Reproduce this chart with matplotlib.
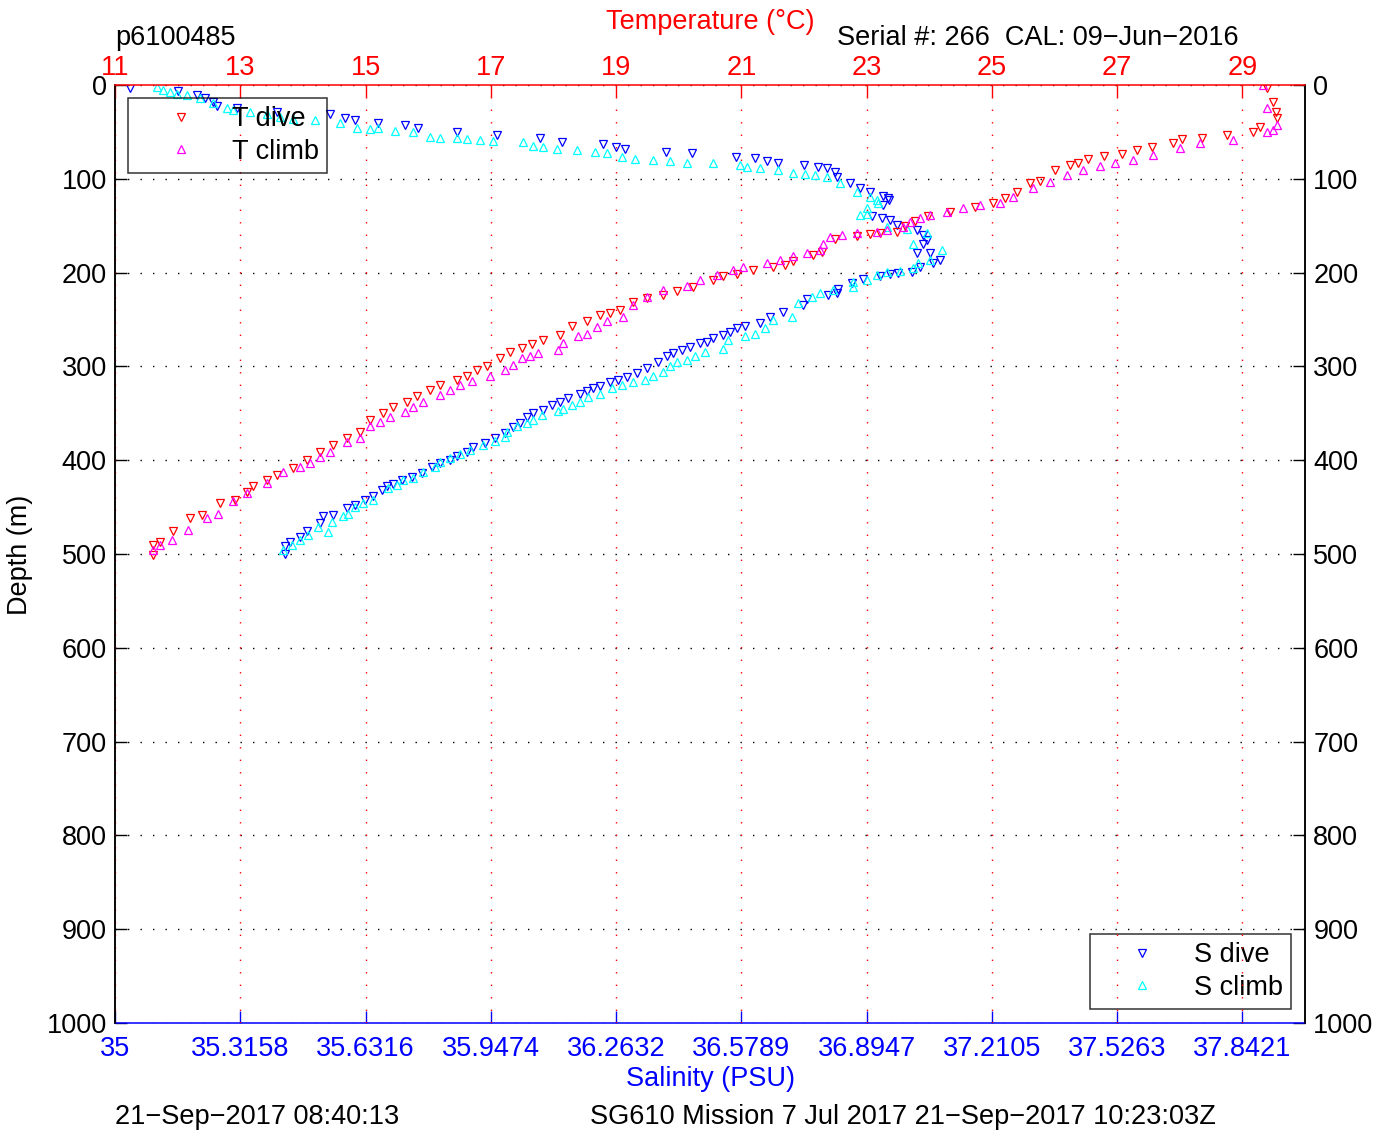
"""
Seaglider dive profile: temperature / salinity vs depth (p6100485)
"""

import matplotlib
matplotlib.use("Agg")
import matplotlib.pyplot as plt

plt.rcParams["font.family"] = ["Liberation Sans", "DejaVu Sans"]
plt.rcParams["font.size"] = 19.5
plt.rcParams["axes.unicode_minus"] = True

FS = 19.5

# ── Data ──────────────────────────────────────────────────────────────────────
t_dive_depth = [3, 18, 29, 35, 45, 50, 53, 56, 58, 62, 66, 69, 74, 76, 79, 83, 85, 91,
                102, 104, 114, 120, 126, 130, 135, 140, 145, 150, 157, 158, 159, 161,
                164, 178, 181, 188, 192, 194, 197, 201, 204, 208, 215, 220, 224, 227,
                231, 240, 243, 245, 252, 257, 266, 272, 276, 280, 285, 291, 300, 304,
                310, 314, 320, 325, 332, 338, 343, 350, 357, 370, 376, 384, 391, 400,
                408, 416, 421, 428, 434, 442, 446, 458, 462, 476, 487, 490, 501]
t_dive_temp = [29.39, 29.49, 29.54, 29.55, 29.28, 29.17, 28.75, 28.36, 28.04, 27.89,
               27.56, 27.32, 27.08, 26.79, 26.53, 26.38, 26.25, 26.01, 25.77, 25.61,
               25.40, 25.21, 25.02, 24.73, 24.33, 23.98, 23.77, 23.61, 23.49, 23.21,
               23.05, 22.85, 22.50, 22.29, 22.14, 21.83, 21.70, 21.51, 21.19, 20.93,
               20.71, 20.55, 20.23, 19.97, 19.75, 19.49, 19.27, 19.06, 18.90, 18.74,
               18.54, 18.30, 18.10, 17.83, 17.66, 17.50, 17.31, 17.15, 16.94, 16.78,
               16.62, 16.46, 16.19, 16.03, 15.82, 15.66, 15.44, 15.28, 15.07, 14.91,
               14.70, 14.48, 14.27, 14.07, 13.84, 13.59, 13.43, 13.20, 13.11, 12.92,
               12.68, 12.39, 12.20, 11.93, 11.72, 11.61, 11.61]

t_climb_depth = [0, 25, 43, 48, 50, 59, 62, 67, 75, 80, 83, 86, 91, 96, 103, 110, 119,
                 126, 128, 131, 135, 139, 142, 146, 151, 155, 157, 158, 160, 162, 169,
                 176, 179, 182, 187, 190, 194, 197, 203, 208, 214, 219, 226, 235, 247,
                 252, 258, 265, 268, 275, 282, 286, 289, 291, 298, 304, 310, 316, 320,
                 325, 330, 338, 343, 349, 354, 359, 364, 376, 381, 391, 397, 403, 407,
                 413, 424, 435, 444, 457, 462, 474, 485, 490, 496]
t_climb_temp = [29.33, 29.39, 29.55, 29.49, 29.39, 28.85, 28.32, 28.00, 27.57, 27.25,
                26.97, 26.73, 26.46, 26.20, 25.93, 25.66, 25.34, 25.13, 24.81, 24.54,
                24.28, 24.01, 23.85, 23.69, 23.58, 23.33, 23.17, 22.85, 22.61, 22.42,
                22.30, 22.26, 22.05, 21.83, 21.62, 21.41, 21.03, 20.87, 20.61, 20.34,
                20.13, 19.75, 19.49, 19.27, 19.11, 18.86, 18.70, 18.54, 18.39, 18.15,
                18.07, 17.75, 17.63, 17.50, 17.35, 17.23, 16.99, 16.70, 16.51, 16.35,
                16.19, 15.92, 15.76, 15.63, 15.39, 15.23, 15.07, 14.91, 14.70, 14.43,
                14.27, 14.11, 13.95, 13.68, 13.43, 13.11, 12.88, 12.64, 12.47, 12.17,
                11.91, 11.72, 11.61]

s_dive_depth = [3, 6, 11, 14, 18, 22, 25, 29, 31, 35, 37, 41, 43, 46, 50, 53, 56, 61,
                63, 66, 68, 71, 73, 77, 78, 81, 83, 85, 87, 88, 93, 98, 104, 110, 114,
                118, 121, 123, 128, 140, 142, 144, 149, 155, 160, 165, 169, 179, 179,
                187, 190, 194, 199, 200, 201, 204, 207, 211, 217, 222, 224, 228, 235,
                242, 247, 254, 257, 259, 263, 267, 270, 274, 275, 279, 283, 286, 289,
                295, 302, 307, 311, 314, 317, 321, 323, 326, 329, 334, 338, 341, 346,
                350, 354, 360, 365, 371, 376, 382, 386, 391, 395, 400, 403, 407, 414,
                418, 421, 425, 428, 432, 438, 442, 448, 451, 458, 460, 467, 476, 482,
                487, 492, 500]
s_dive_sal = [35.038, 35.159, 35.207, 35.227, 35.247, 35.257, 35.308, 35.408, 35.542,
              35.580, 35.605, 35.663, 35.731, 35.764, 35.862, 35.963, 36.071, 36.127,
              36.230, 36.263, 36.286, 36.389, 36.455, 36.566, 36.613, 36.644, 36.671,
              36.737, 36.772, 36.795, 36.815, 36.820, 36.853, 36.878, 36.903, 36.936,
              36.949, 36.951, 36.936, 36.908, 36.934, 36.954, 36.971, 37.022, 37.037,
              37.047, 37.037, 37.022, 37.055, 37.080, 37.062, 37.029, 37.009, 36.974,
              36.954, 36.929, 36.886, 36.858, 36.823, 36.820, 36.797, 36.745, 36.734,
              36.684, 36.651, 36.626, 36.588, 36.568, 36.550, 36.533, 36.508, 36.492,
              36.475, 36.450, 36.429, 36.407, 36.392, 36.369, 36.341, 36.316, 36.291,
              36.268, 36.248, 36.223, 36.205, 36.190, 36.172, 36.142, 36.122, 36.102,
              36.079, 36.054, 36.039, 36.021, 36.003, 35.983, 35.958, 35.933, 35.903,
              35.887, 35.862, 35.845, 35.819, 35.799, 35.774, 35.749, 35.724, 35.701,
              35.686, 35.673, 35.650, 35.630, 35.605, 35.585, 35.550, 35.524, 35.517,
              35.484, 35.466, 35.441, 35.429, 35.429]

s_climb_depth = [2, 5, 7, 10, 11, 14, 19, 25, 27, 29, 31, 34, 36, 37, 40, 46, 47, 46,
                 49, 50, 55, 56, 57, 58, 59, 60, 61, 65, 66, 68, 69, 71, 73, 77, 79, 80,
                 81, 83, 83, 85, 87, 88, 91, 94, 95, 96, 98, 105, 114, 119, 123, 126,
                 131, 137, 139, 151, 153, 158, 169, 176, 187, 190, 195, 198, 199, 203,
                 208, 210, 215, 219, 222, 226, 232, 247, 251, 259, 265, 268, 272, 281,
                 285, 289, 293, 295, 300, 306, 310, 314, 317, 320, 323, 329, 333, 338,
                 341, 345, 348, 352, 357, 360, 364, 370, 375, 380, 384, 389, 393, 398,
                 402, 407, 413, 419, 421, 426, 430, 442, 446, 450, 457, 460, 466, 471,
                 477, 480, 485, 490, 496]
s_climb_sal = [35.106, 35.121, 35.139, 35.156, 35.182, 35.214, 35.247, 35.282, 35.297,
               35.340, 35.383, 35.416, 35.449, 35.504, 35.567, 35.610, 35.643, 35.663,
               35.706, 35.751, 35.794, 35.819, 35.862, 35.887, 35.920, 35.953, 36.029,
               36.054, 36.079, 36.114, 36.165, 36.210, 36.240, 36.278, 36.311, 36.356,
               36.399, 36.442, 36.508, 36.576, 36.593, 36.626, 36.671, 36.709, 36.739,
               36.765, 36.795, 36.828, 36.871, 36.903, 36.921, 36.924, 36.896, 36.896,
               36.878, 36.946, 36.997, 37.047, 37.012, 37.085, 37.055, 37.024, 37.012,
               36.979, 36.946, 36.921, 36.896, 36.861, 36.861, 36.810, 36.777, 36.757,
               36.722, 36.707, 36.659, 36.639, 36.613, 36.588, 36.545, 36.533, 36.487,
               36.462, 36.442, 36.417, 36.399, 36.382, 36.356, 36.336, 36.306, 36.278,
               36.253, 36.223, 36.192, 36.172, 36.152, 36.129, 36.117, 36.076, 36.054,
               36.039, 36.013, 35.988, 35.983, 35.958, 35.928, 35.895, 35.870, 35.845,
               35.819, 35.807, 35.777, 35.751, 35.726, 35.711, 35.688, 35.650, 35.625,
               35.605, 35.587, 35.575, 35.547, 35.512, 35.537, 35.487, 35.466, 35.446,
               35.424]

temp_ticks = [11, 13, 15, 17, 19, 21, 23, 25, 27, 29]
sal_ticks = [35, 35.3158, 35.6316, 35.9474, 36.2632, 36.5789, 36.8947, 37.2105,
             37.5263, 37.8421]
sal_tick_labels = ["35", "35.3158", "35.6316", "35.9474", "36.2632", "36.5789",
                   "36.8947", "37.2105", "37.5263", "37.8421"]
depth_ticks = [0, 100, 200, 300, 400, 500, 600, 700, 800, 900, 1000]

# ── Canvas ────────────────────────────────────────────────────────────────────
W, H = 1390, 1136
fig = plt.figure(figsize=(W / 100, H / 100), dpi=100, facecolor="white")
L, R, T, B = 115, 1305, 85, 1023
ax = fig.add_axes([L / W, 1 - B / H, (R - L) / W, (B - T) / H])
axT = ax.twiny()

MS = 5.2
MEW = 0.9
DOTS = (0, (1, 8))

# salinity on the bottom axis
ax.plot(s_dive_sal, s_dive_depth, "v", ls="none", mfc="none", mec="blue",
        ms=MS, mew=MEW, label="S dive")
ax.plot(s_climb_sal, s_climb_depth, "^", ls="none", mfc="none", mec="cyan",
        ms=MS, mew=MEW, label="S climb")
ax.set_xlim(35, 38)
ax.set_ylim(1000, 0)
ax.set_xticks(sal_ticks)
ax.set_xticklabels(sal_tick_labels)
ax.set_yticks(depth_ticks)
ax.tick_params(axis="x", colors="blue", direction="in", length=8.5, width=1,
               pad=9, top=False)
ax.tick_params(axis="y", colors="black", direction="in", length=8.5, width=1,
               left=True, right=True, labelleft=True, labelright=True, pad=6)
ax.yaxis.grid(True, color="black", ls=DOTS, lw=1.0)
ax.spines["bottom"].set_color("blue")
ax.spines["top"].set_visible(False)
for s in ax.spines.values():
    s.set_linewidth(1.1)

# temperature on the top axis
axT.plot(t_dive_temp, t_dive_depth, "v", ls="none", mfc="none", mec="red",
         ms=MS, mew=MEW, label="T dive")
axT.plot(t_climb_temp, t_climb_depth, "^", ls="none", mfc="none", mec="magenta",
         ms=MS, mew=MEW, label="T climb")
axT.set_xlim(11, 30)
axT.set_xticks(temp_ticks)
axT.tick_params(axis="x", colors="red", direction="in", length=8.5, width=1, pad=3)
axT.xaxis.grid(True, color="red", ls=DOTS, lw=1.0)
axT.spines["top"].set_color("red")
axT.spines["bottom"].set_visible(False)
for s in axT.spines.values():
    s.set_linewidth(1.1)

# legends (transparent, square)
leg_kw = dict(borderaxespad=0, frameon=True, fancybox=False, facecolor="none",
              edgecolor="black", numpoints=1, handlelength=3.3,
              handletextpad=0.25, labelspacing=0.25, borderpad=0.3, fontsize=FS)
legT = axT.legend(loc="upper left", bbox_to_anchor=(13 / (R - L), 1 - 13 / (B - T)),
                  **leg_kw)
legT.get_frame().set_linewidth(1.1)
legS = ax.legend(loc="lower right", bbox_to_anchor=(1 - 14 / (R - L), 14 / (B - T)),
                 **leg_kw)
legS.get_frame().set_linewidth(1.1)

# ── Labels / annotations ──────────────────────────────────────────────────────
fig.text(710 / W, 1 - 22 / H, "Temperature (°C)", color="red",
         ha="center", va="center", fontsize=FS)
fig.text(710 / W, 1 - 1079 / H, "Salinity (PSU)", color="blue",
         ha="center", va="center", fontsize=FS)
fig.text(20 / W, 1 - 555 / H, "Depth (m)", rotation=90,
         ha="center", va="center", fontsize=FS)
fig.text(115 / W, 1 - 38 / H, "p6100485", ha="left", va="center", fontsize=FS)
fig.text(837 / W, 1 - 38 / H, "Serial #: 266  CAL: 09\u2212Jun\u22122016",
         ha="left", va="center", fontsize=FS)
fig.text(115 / W, 1 - 1117 / H, "21\u2212Sep\u22122017 08:40:13",
         ha="left", va="center", fontsize=FS)
fig.text(590 / W, 1 - 1117 / H,
         "SG610 Mission 7 Jul 2017 21\u2212Sep\u22122017 10:23:03Z",
         ha="left", va="center", fontsize=FS)

fig.savefig("out.png", dpi=100, facecolor="white")
